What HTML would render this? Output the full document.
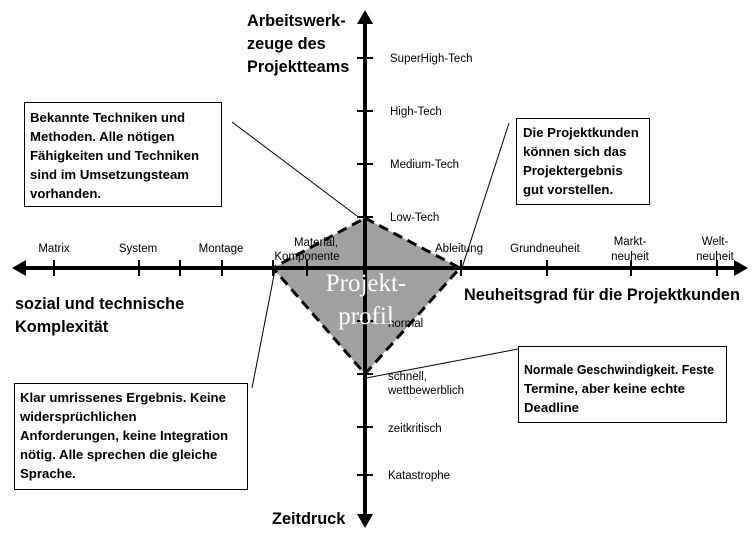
<!DOCTYPE html>
<html><head><meta charset="utf-8"><style>
body{margin:0;width:756px;height:540px;background:#fff;overflow:hidden;font-family:"Liberation Sans",sans-serif}
</style></head><body>
<svg width="756" height="540" xmlns="http://www.w3.org/2000/svg" font-family="Liberation Sans, sans-serif">
<polygon points="365,218 460,268 365,374 273,268" fill="#a0a0a0" stroke="#000" stroke-width="3" stroke-dasharray="10,6"/>
<g stroke="#000" stroke-width="4">
<line x1="22" y1="268" x2="738" y2="268"/>
<line x1="365" y1="20" x2="365" y2="518"/>
</g>
<polygon points="12,268 26,260 26,276" fill="#000"/>
<polygon points="748,268 734,260 734,276" fill="#000"/>
<polygon points="365,10 357,24 373,24" fill="#000"/>
<polygon points="365,528 357,514 373,514" fill="#000"/>
<g stroke="#000" stroke-width="2">
<line x1="54" y1="260" x2="54" y2="276"/><line x1="139" y1="260" x2="139" y2="276"/>
<line x1="180" y1="260" x2="180" y2="276"/><line x1="222" y1="260" x2="222" y2="276"/>
<line x1="273" y1="260" x2="273" y2="276"/><line x1="307" y1="260" x2="307" y2="276"/>
<line x1="358" y1="268" x2="372" y2="268"/>
<line x1="461" y1="260" x2="461" y2="276"/><line x1="547" y1="260" x2="547" y2="276"/>
<line x1="631" y1="260" x2="631" y2="276"/><line x1="717" y1="260" x2="717" y2="276"/>
<line x1="357" y1="58" x2="373" y2="58"/><line x1="357" y1="111" x2="373" y2="111"/>
<line x1="357" y1="164" x2="373" y2="164"/><line x1="357" y1="217" x2="373" y2="217"/>
<line x1="357" y1="321" x2="373" y2="321"/><line x1="357" y1="374" x2="373" y2="374"/>
<line x1="357" y1="427" x2="373" y2="427"/><line x1="357" y1="475" x2="373" y2="475"/>
</g>
<g stroke="#000" stroke-width="1">
<line x1="232" y1="122" x2="357" y2="216"/>
<line x1="509" y1="123" x2="460" y2="274"/>
<line x1="252" y1="388" x2="275" y2="270"/>
<line x1="518" y1="349" x2="366" y2="378"/>
</g>
<g font-size="11.5" fill="#000" text-anchor="middle">
<text x="54" y="252">Matrix</text><text x="138" y="252">System</text><text x="221" y="252">Montage</text>
<text x="316" y="246">Material,</text><text x="307" y="260">Komponente</text>
<text x="459" y="252">Ableitung</text><text x="545" y="252">Grundneuheit</text>
<text x="630" y="245">Markt-</text><text x="630" y="260">neuheit</text>
<text x="715" y="245">Welt-</text><text x="715" y="260">neuheit</text>
</g>
<g font-size="11.5" fill="#000">
<text x="390" y="62">SuperHigh-Tech</text><text x="390" y="115">High-Tech</text>
<text x="390" y="168">Medium-Tech</text><text x="390" y="221">Low-Tech</text>
<text x="388" y="327">normal</text><text x="388" y="380">schnell,</text><text x="388" y="394">wettbewerblich</text>
<text x="388" y="432">zeitkritisch</text><text x="388" y="479">Katastrophe</text>
</g>
<g font-size="16.3" font-weight="bold" fill="#000">
<text x="247" y="26">Arbeitswerk-</text><text x="247" y="49">zeuge des</text><text x="247" y="72">Projektteams</text>
<text x="15" y="309">sozial und technische</text><text x="15" y="332">Komplexität</text>
<text x="464" y="300">Neuheitsgrad für die Projektkunden</text>
<text x="272" y="524">Zeitdruck</text>
</g>
<text x="366" y="291" font-family="Liberation Serif, serif" font-size="25" fill="#fff" text-anchor="middle">Projekt-</text>
<text x="366" y="324" font-family="Liberation Serif, serif" font-size="25" fill="#fff" text-anchor="middle">profil</text>
<g fill="#fff" stroke="#000" stroke-width="1">
<rect x="24.5" y="102.5" width="197" height="104"/>
<rect x="516.5" y="118.5" width="133" height="86"/>
<rect x="14.5" y="383.5" width="233" height="106"/>
<rect x="518.5" y="346.5" width="208" height="76"/>
</g>
<g font-size="13.2" font-weight="bold" fill="#000">
<text x="30" y="122">Bekannte Techniken und</text><text x="30" y="141">Methoden. Alle nötigen</text>
<text x="30" y="160">Fähigkeiten und Techniken</text><text x="30" y="179">sind im Umsetzungsteam</text>
<text x="30" y="198">vorhanden.</text>
<text x="523" y="137">Die Projektkunden</text><text x="523" y="156">können sich das</text>
<text x="523" y="175">Projektergebnis</text><text x="523" y="194">gut vorstellen.</text>
<text x="20" y="402">Klar umrissenes Ergebnis. Keine</text><text x="20" y="421">widersprüchlichen</text>
<text x="20" y="440">Anforderungen, keine Integration</text><text x="20" y="459">nötig. Alle sprechen die gleiche</text>
<text x="20" y="478">Sprache.</text>
<text x="524" y="374" textLength="190" lengthAdjust="spacingAndGlyphs">Normale Geschwindigkeit. Feste</text><text x="524" y="393">Termine, aber keine echte</text>
<text x="524" y="412">Deadline</text>
</g>
</svg>
</body></html>
